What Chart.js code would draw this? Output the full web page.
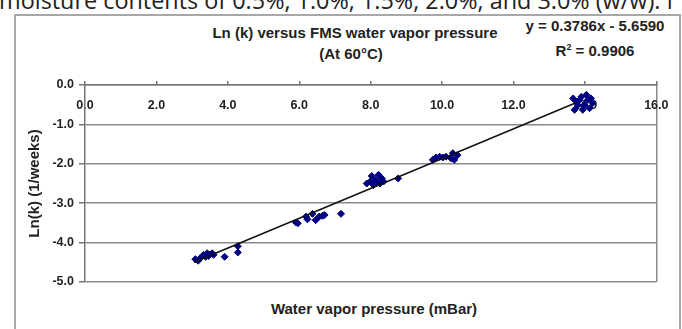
<!DOCTYPE html>
<html>
<head>
<meta charset="utf-8">
<script src="https://cdn.jsdelivr.net/npm/chart.js"></script>
<style>
  html, body { margin: 0; padding: 0; background: #fff; width: 682px; height: 329px; overflow: hidden; }
  #marco { position: absolute; left: 14px; top: 14px; width: 667px; height: 340px; border: 2px solid #a8a8a8; box-sizing: border-box; }
  .txt { position: absolute; font-family: 'Liberation Sans', Arial, sans-serif; font-weight: bold; font-size: 15px; color: #222; white-space: nowrap; transform: translate(-50%, -50%); }
  canvas { position: absolute; left: 0; top: 0; }
</style>
</head>
<body>
<div id="linea" style="position:absolute;left:-1px;top:-11px;font-family:'Open Sans',sans-serif;font-size:23.4px;line-height:23px;color:#222;white-space:nowrap;">moisture contents of 0.5%, 1.0%, 1.5%, 2.0%, and 3.0% (w/w). I</div>
<div id="marco"></div>
<div class="txt" style="left:355px;top:32px">Ln (k) versus FMS water vapor pressure</div>
<div class="txt" style="left:351px;top:53px">(At 60°C)</div>
<div class="txt" style="left:595px;top:25px">y = 0.3786x - 5.6590</div>
<div class="txt" style="left:595px;top:50px">R<sup style="font-size:9px">2</sup> = 0.9906</div>
<div class="txt" style="left:374px;top:308px">Water vapor pressure (mBar)</div>
<canvas id="grafico" width="682" height="329"></canvas>
<script>
// --- Datos ---
const presion = [
  3.09, 3.17, 3.22, 3.32, 3.38, 3.42, 3.46, 3.50, 3.56, 3.60, 3.91, 4.28, 4.28,
  5.91, 5.96, 6.19, 6.23, 6.37, 6.46, 6.56, 6.65, 6.71, 7.17,
  7.89, 7.99, 8.03, 8.08, 8.13, 8.17, 8.22, 8.26, 8.31, 8.36, 8.77,
  9.74, 9.83, 9.93, 10.02, 10.11, 10.25, 10.30, 10.34, 10.43,
  13.67, 13.71, 13.76, 13.80, 13.85, 13.90, 13.94, 13.99, 14.04, 14.08, 14.13, 14.17, 14.22
];
const lnK = [
  -4.42, -4.46, -4.40, -4.31, -4.36, -4.27, -4.34, -4.30, -4.27, -4.31, -4.36, -4.09, -4.25,
  -3.49, -3.51, -3.34, -3.41, -3.27, -3.43, -3.34, -3.32, -3.30, -3.27,
  -2.50, -2.45, -2.31, -2.54, -2.41, -2.48, -2.28, -2.50, -2.37, -2.45, -2.37,
  -1.90, -1.84, -1.82, -1.84, -1.82, -1.86, -1.73, -1.90, -1.78,
  -0.34, -0.63, -0.42, -0.51, -0.38, -0.30, -0.63, -0.51, -0.25, -0.38, -0.59, -0.34, -0.46
];
// linea de tendencia (extremos)
const tendenciaX = [3.05, 13.75];
const tendenciaY = [-4.50, -0.45];

const etiquetasX = ["0.0", "2.0", "4.0", "6.0", "8.0", "10.0", "12.0", "14.0", "16.0"];
const etiquetasY = ["-5.0", "-4.0", "-3.0", "-2.0", "-1.0", "0.0"];

const fuente = { family: "'Liberation Sans', Arial, sans-serif", weight: "bold" };

new Chart(document.getElementById("grafico"), {
  type: "scatter",
  data: {
    datasets: [
      {
        label: "Tendencia",
        data: tendenciaX.map((x, i) => ({ x: x, y: tendenciaY[i] })),
        showLine: true,
        borderColor: "#111",
        borderWidth: 1.5,
        pointRadius: 0,
        order: 0
      },
      {
        label: "Ln(k)",
        data: presion.map((x, i) => ({ x: x, y: lnK[i] })),
        pointStyle: "rectRot",
        pointRadius: 3.5,
        backgroundColor: "#000080",
        borderColor: "#000080",
        borderWidth: 1,
        order: 1
      }
    ]
  },
  options: {
    responsive: false,
    animation: false,
    devicePixelRatio: 1,
    layout: { padding: { left: 26, top: 81, right: 19, bottom: 47 } },
    plugins: { legend: { display: false }, tooltip: { enabled: false } },
    scales: {
      x: {
        type: "linear",
        position: { y: 0 },
        min: 0, max: 16,
        ticks: {
          stepSize: 2,
          padding: 13.5,
          color: "#222",
          font: Object.assign({ size: 12.5 }, fuente),
          callback: (v, i) => etiquetasX[i]
        },
        grid: {
          drawTicks: false,
          lineWidth: 1.5,
          color: (c) => (c.tick && c.tick.value === 16 ? "#8a8a8a" : "rgba(0,0,0,0)")
        },
        border: { color: "#777", width: 1.5 }
      },
      x2: {
        type: "linear",
        position: "top",
        min: 0, max: 16,
        ticks: { stepSize: 2, display: false },
        grid: { drawOnChartArea: false, drawTicks: true, tickLength: 4, tickColor: "#777", lineWidth: 1.5 },
        border: { display: false }
      },
      y: {
        min: -5, max: 0,
        ticks: {
          stepSize: 1,
          padding: 5,
          color: "#222",
          font: Object.assign({ size: 12.5 }, fuente),
          callback: (v, i) => etiquetasY[i]
        },
        grid: { color: "#8a8a8a", lineWidth: 1.5, tickLength: 6, tickColor: "#777" },
        border: { color: "#777", width: 1.5 },
        title: {
          display: true,
          text: "Ln(k) (1/weeks)",
          color: "#222",
          padding: 0,
          font: Object.assign({ size: 15 }, fuente)
        },
        afterFit: (s) => { s.width = 59; }
      }
    }
  }
});
</script>
</body>
</html>
